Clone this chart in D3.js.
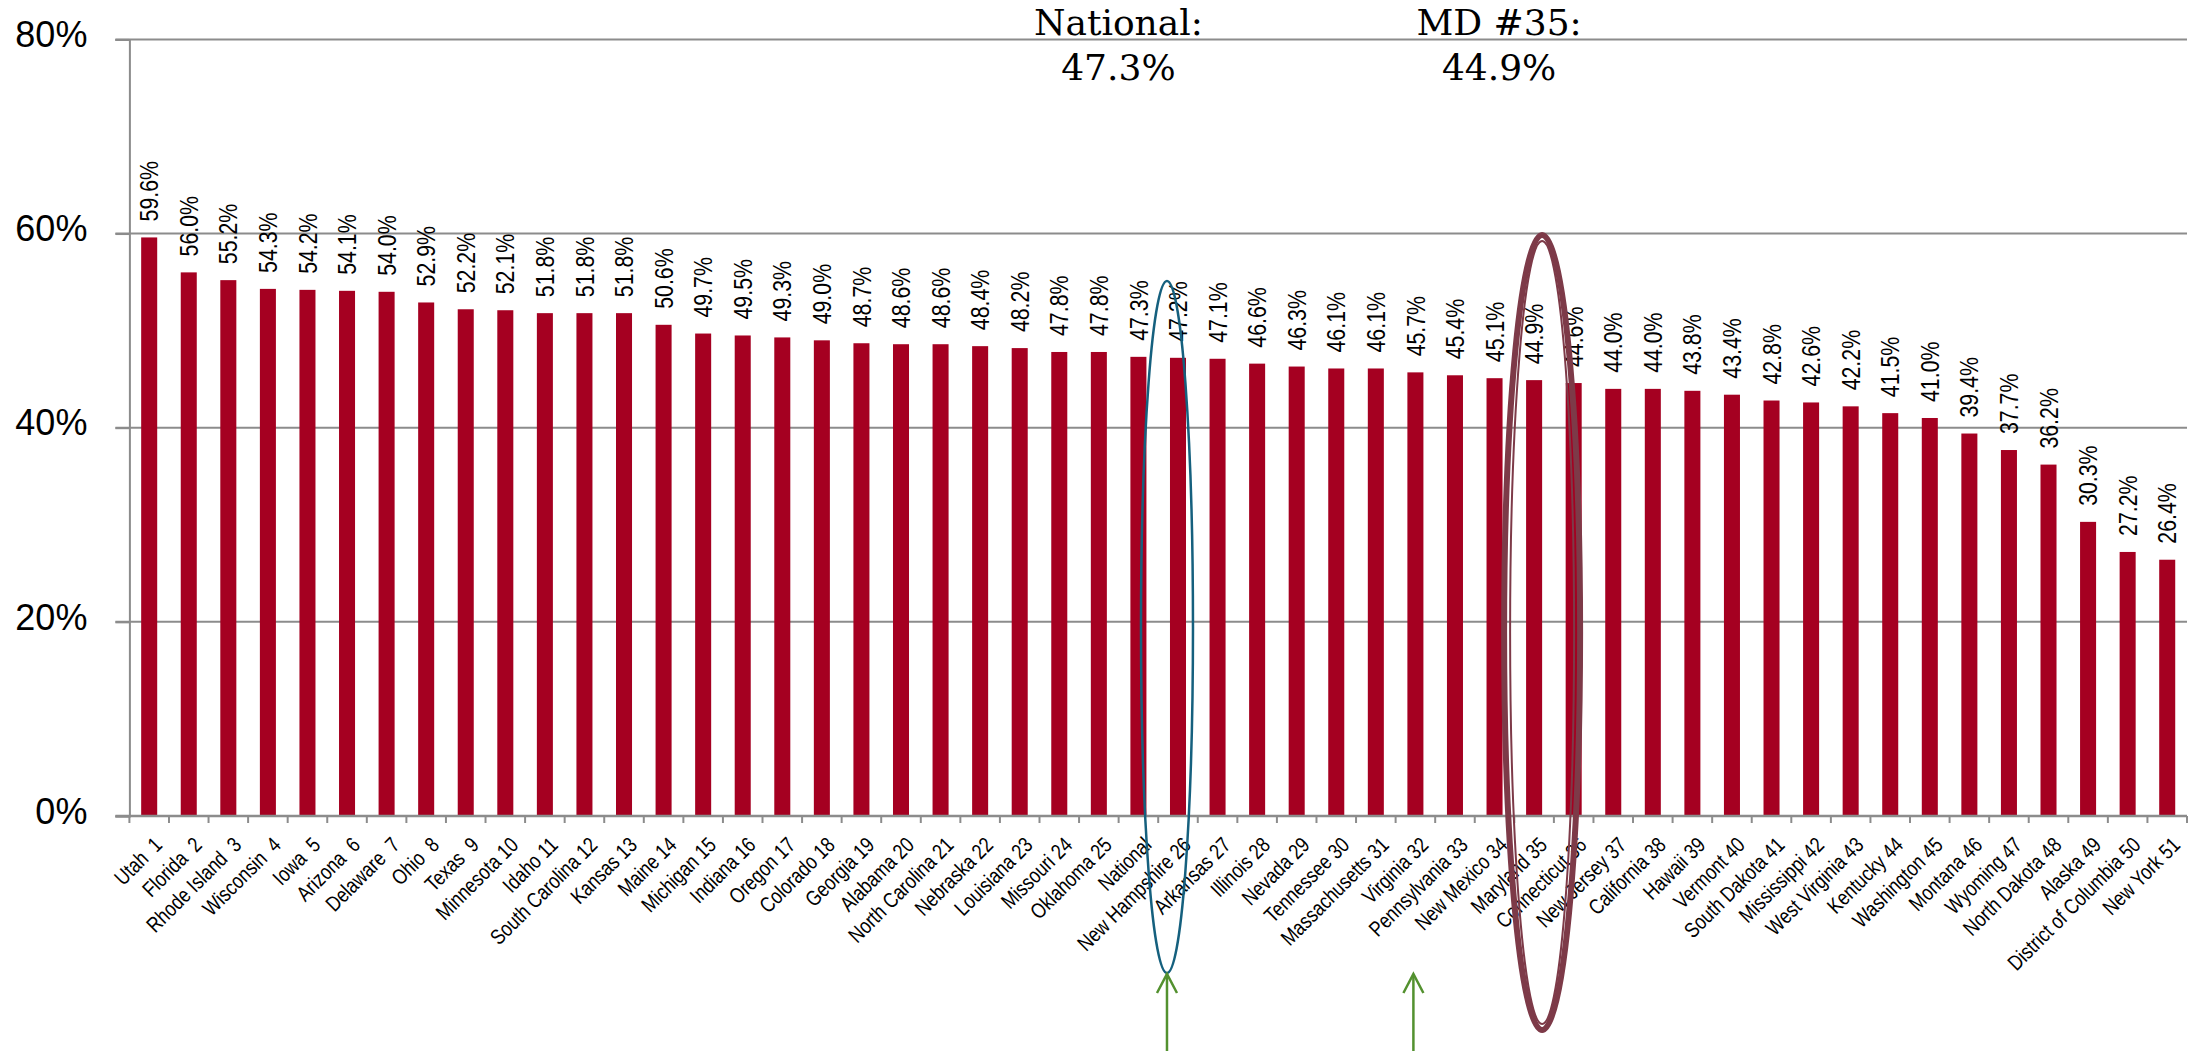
<!DOCTYPE html>
<html>
<head>
<meta charset="utf-8">
<script src="https://cdn.jsdelivr.net/npm/d3@7"></script>
<style>
  html, body { margin: 0; padding: 0; background: #ffffff; }
  svg { display: block; }
  .xlab { white-space: pre; }
</style>
</head>
<body>
<svg id="chart" width="2206" height="1051"></svg>
<script>
// Category labels (state and rank), in ranked order with the national figure in place
const categories = [
  "Utah  1", "Florida  2", "Rhode Island  3", "Wisconsin  4", "Iowa  5", "Arizona  6",
  "Delaware  7", "Ohio  8", "Texas  9", "Minnesota 10", "Idaho 11", "South Carolina 12",
  "Kansas 13", "Maine 14", "Michigan 15", "Indiana 16", "Oregon 17", "Colorado 18",
  "Georgia 19", "Alabama 20", "North Carolina 21", "Nebraska 22", "Louisiana 23",
  "Missouri 24", "Oklahoma 25", "National", "New Hampshire 26", "Arkansas 27",
  "Illinois 28", "Nevada 29", "Tennessee 30", "Massachusetts 31", "Virginia 32",
  "Pennsylvania 33", "New Mexico 34", "Maryland 35", "Connecticut 36", "New Jersey 37",
  "California 38", "Hawaii 39", "Vermont 40", "South Dakota 41", "Mississippi 42",
  "West Virginia 43", "Kentucky 44", "Washington 45", "Montana 46", "Wyoming 47",
  "North Dakota 48", "Alaska 49", "District of Columbia 50", "New York 51"
];

// Share for each category (fraction)
const values = [
  0.596, 0.560, 0.552, 0.543, 0.542, 0.541,
  0.540, 0.529, 0.522, 0.521, 0.518, 0.518,
  0.518, 0.506, 0.497, 0.495, 0.493, 0.490,
  0.487, 0.486, 0.486, 0.484, 0.482,
  0.478, 0.478, 0.473, 0.472, 0.471,
  0.466, 0.463, 0.461, 0.461, 0.457,
  0.454, 0.451, 0.449, 0.446, 0.440,
  0.440, 0.438, 0.434, 0.428, 0.426,
  0.422, 0.415, 0.410, 0.394, 0.377,
  0.362, 0.303, 0.272, 0.264
];

// Value-axis ticks
const yTicks = [0, 0.2, 0.4, 0.6, 0.8];

// Headline call-outs above the bars
const calloutTitles = ["National:", "MD #35:"];
const calloutCategories = ["National", "Maryland 35"];

// Categories pointed at by the arrows below the axis
const arrowCategories = ["New Hampshire 26", "Virginia 32"];

// Condensed sans for the bar and category labels; if no narrow face is
// installed, the regular face is squeezed along the text direction instead.
const probe = document.createElement("canvas").getContext("2d");
function widthOf(font) { probe.font = font; return probe.measureText("District of Columbia 50 26.4%").width; }
const hasNarrow = widthOf("20px 'Liberation Sans Narrow', monospace") !== widthOf("20px monospace");
const narrowFamily = hasNarrow ? "'Liberation Sans Narrow', 'Arial Narrow', sans-serif" : "'Liberation Sans', Arial, sans-serif";
const squeeze = hasNarrow ? "" : " scale(0.82,1)";

const svg = d3.select("#chart");
const W = 2206, H = 1051;
const plotLeft = 129.4, plotRight = 2187, plotTop = 39.4, plotBottom = 816;

const x = d3.scaleBand()
  .domain(categories)
  .range([plotLeft, plotRight])
  .paddingInner(0.595)
  .paddingOuter(0.2975);

const y = d3.scaleLinear()
  .domain([0, 0.8])
  .range([plotBottom, plotTop]);

const pct0 = d3.format(".0%");
const pct1 = d3.format(".1%");
const step = x.step();
const cx = c => x(c) + x.bandwidth() / 2;

const gridColor = "#8c8c8c";
const barColor = "#a50021";
const tickLen = 14;

// Horizontal gridlines, extended left as tick marks
svg.append("g")
  .selectAll("line")
  .data(yTicks.filter(t => t > 0))
  .join("line")
  .attr("x1", plotLeft - tickLen)
  .attr("x2", plotRight)
  .attr("y1", d => y(d))
  .attr("y2", d => y(d))
  .attr("stroke", gridColor)
  .attr("stroke-width", 2);

// Value axis
const yAxis = d3.axisLeft(y)
  .tickValues(yTicks)
  .tickFormat(pct0)
  .tickSize(tickLen)
  .tickPadding(28);

const gy = svg.append("g")
  .attr("transform", `translate(${plotLeft},0)`)
  .call(yAxis);
gy.select(".domain").attr("stroke", gridColor).attr("stroke-width", 2);
gy.selectAll(".tick line").attr("stroke", gridColor).attr("stroke-width", 2);
gy.selectAll(".tick text")
  .attr("font-family", "'Liberation Sans', Arial, sans-serif")
  .attr("font-size", 36)
  .attr("fill", "#000")
  .attr("dy", "0.2em");

// Bars
svg.append("g")
  .selectAll("rect")
  .data(categories)
  .join("rect")
  .attr("x", d => x(d))
  .attr("width", x.bandwidth())
  .attr("y", (d, i) => y(values[i]))
  .attr("height", (d, i) => y(0) - y(values[i]))
  .attr("fill", barColor);

// Category axis line with tick marks at slot boundaries
const gx = svg.append("g");
gx.append("line")
  .attr("x1", plotLeft - tickLen)
  .attr("x2", plotRight)
  .attr("y1", y(0))
  .attr("y2", y(0))
  .attr("stroke", gridColor)
  .attr("stroke-width", 2.5);
gx.selectAll("line.tk")
  .data(d3.range(categories.length + 1))
  .join("line")
  .attr("class", "tk")
  .attr("x1", i => plotLeft + i * step)
  .attr("x2", i => plotLeft + i * step)
  .attr("y1", y(0))
  .attr("y2", y(0) + 7)
  .attr("stroke", gridColor)
  .attr("stroke-width", 2);

// Category labels, slanted
gx.selectAll("text")
  .data(categories)
  .join("text")
  .attr("class", "xlab")
  .attr("transform", d => `translate(${cx(d) + 9},${y(0) + 25}) rotate(-45)${squeeze}`)
  .attr("text-anchor", "end")
  .attr("dy", "0.35em")
  .attr("font-family", narrowFamily)
  .attr("font-size", 21.5)
  .attr("fill", "#000")
  .text(d => d);

// Value labels above each bar
svg.append("g")
  .selectAll("text")
  .data(categories)
  .join("text")
  .attr("transform", (d, i) => `translate(${cx(d)},${y(values[i]) - 16}) rotate(-90)${squeeze}`)
  .attr("dy", "0.35em")
  .attr("text-anchor", "start")
  .attr("font-family", narrowFamily)
  .attr("font-size", 26)
  .attr("fill", "#000")
  .text((d, i) => pct1(values[i]));

// Headline call-outs
const callouts = svg.append("g")
  .attr("font-family", "'DejaVu Serif', serif")
  .attr("font-size", 36)
  .attr("fill", "#000")
  .attr("text-anchor", "middle");
const calloutShift = [-20, -35];
calloutCategories.forEach((c, k) => {
  const i = categories.indexOf(c);
  const xc = cx(c) + calloutShift[k];
  callouts.append("text").attr("x", xc).attr("y", 35).text(calloutTitles[k]);
  callouts.append("text").attr("x", xc).attr("y", 80).text(pct1(values[i]));
});

// Highlight ellipses
const nh = "New Hampshire 26", md = "Maryland 35";
svg.append("ellipse")
  .attr("cx", cx(nh) - 11)
  .attr("cy", 627)
  .attr("rx", 26)
  .attr("ry", 346)
  .attr("fill", "none")
  .attr("stroke", "#15607e")
  .attr("stroke-width", 2.5);

const mdX = cx(md) + 8, mdCy = 632.5;
svg.append("ellipse")
  .attr("cx", mdX).attr("cy", mdCy)
  .attr("rx", 38).attr("ry", 397.5)
  .attr("fill", "none")
  .attr("stroke", "#7d3a48")
  .attr("stroke-width", 6);
svg.append("ellipse")
  .attr("cx", mdX).attr("cy", mdCy)
  .attr("rx", 32).attr("ry", 391.5)
  .attr("fill", "none")
  .attr("stroke", "#7d3a48")
  .attr("stroke-width", 2);

// Upward arrows under the axis
const arrowShift = [-11, -2];
const arrowTip = 974;
const arrows = svg.append("g")
  .attr("stroke", "#53912f")
  .attr("stroke-width", 2.5)
  .attr("fill", "none");
arrowCategories.forEach((c, k) => {
  const ax = cx(c) + arrowShift[k];
  arrows.append("line").attr("x1", ax).attr("x2", ax).attr("y1", arrowTip).attr("y2", H);
  arrows.append("path")
    .attr("d", `M${ax - 10},${arrowTip + 19} L${ax},${arrowTip} L${ax + 10},${arrowTip + 19}`);
});
</script>
</body>
</html>
